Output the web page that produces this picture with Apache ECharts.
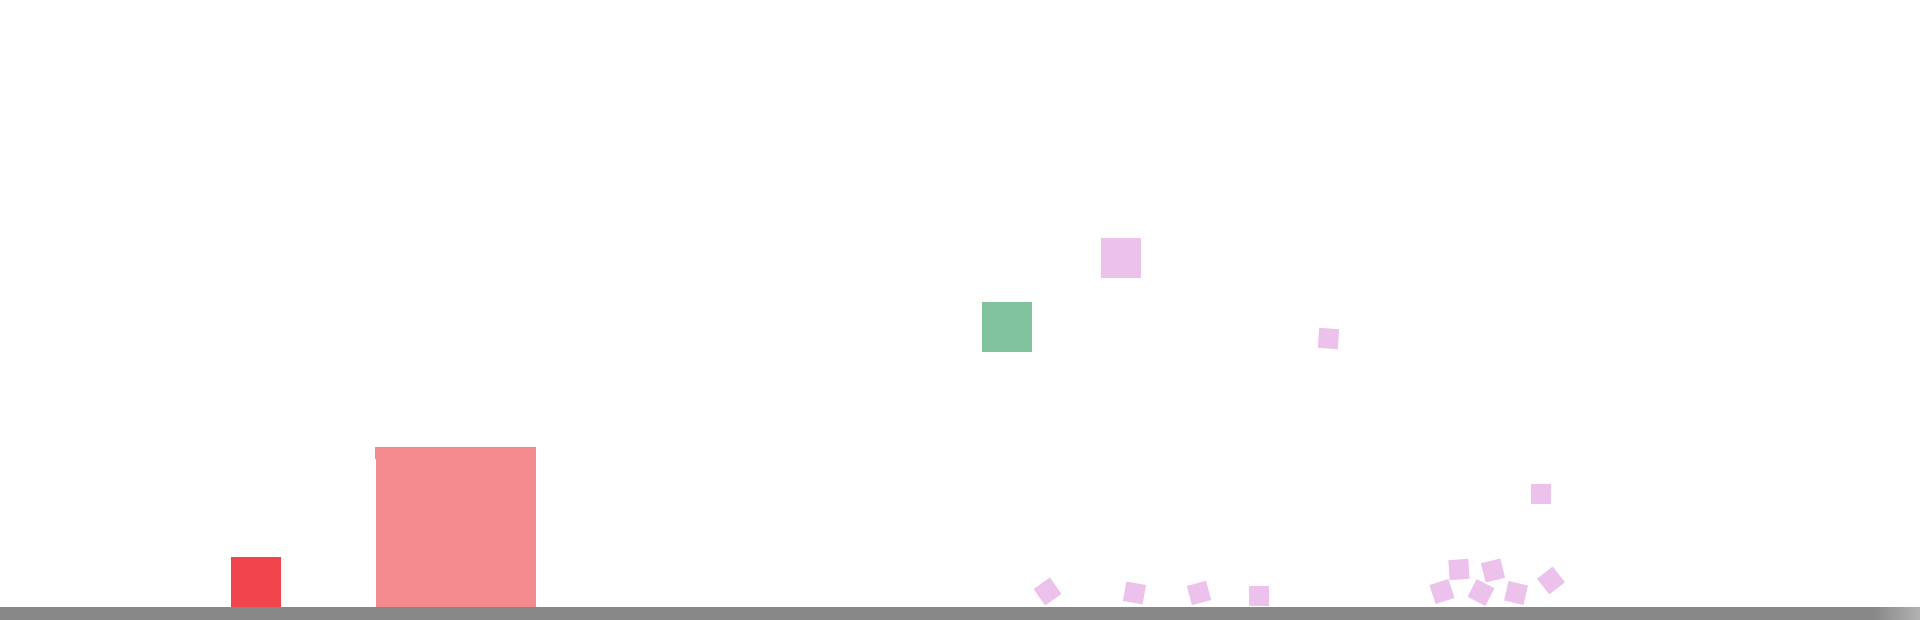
<!DOCTYPE html>
<html>
<head>
<meta charset="utf-8">
<style>
html,body{margin:0;padding:0;background:#fff;}
#main{width:1920px;height:620px;}
</style>
<script src="https://cdn.jsdelivr.net/npm/echarts@6/dist/echarts.min.js"></script>
</head>
<body>
<div id="main"></div>
<script>
// Scene bodies (world units: x to the right, y downward)
const bodyKind  = ['red','salmon','salmon','green','lilac','lilac','lilac','lilac','lilac','lilac','lilac','lilac','lilac','lilac','lilac','lilac','lilac'];
const bodyX     = [256, 456, 455, 1007, 1121, 1328.5, 1047.5, 1134.5, 1199, 1259, 1541, 1442, 1459, 1493, 1481, 1516, 1551];
const bodyY     = [582, 527, 453, 327, 258, 338.5, 591.5, 593, 593, 596, 494, 591.5, 569.5, 570.5, 592.5, 593, 580.5];
const bodyW     = [50, 160, 160, 50, 40, 20, 20, 20, 20, 20, 20, 20, 20, 20, 20, 20, 20];
const bodyH     = [50, 160, 12, 50, 40, 20, 20, 20, 20, 20, 20, 20, 20, 20, 20, 20, 20];
const bodyAngle = [0, 0, 0, 0, 0, 4, -35, 10, -15, 0, 0, -18, -4, -14, 27, 13, -38]; // clockwise degrees

// Ground
const groundX0 = 0, groundX1 = 1920, groundTop = 607, groundBottom = 620;

const kindColor = {red:'#f1444d', salmon:'#f4898e', green:'#7fc29b', lilac:'#ecc2ec'};

const bodies = bodyX.map((x,i)=>[x, bodyY[i], bodyW[i], bodyH[i], bodyAngle[i], i]);

const chart = echarts.init(document.getElementById('main'), null, {renderer:'canvas'});
chart.setOption({
  animation:false,
  backgroundColor:'#ffffff',
  grid:{left:0,right:0,top:0,bottom:0},
  xAxis:{type:'value',min:0,max:1920,show:false},
  yAxis:{type:'value',min:0,max:620,inverse:true,show:false},
  series:[
    {
      type:'custom',
      data:[[groundX0, groundTop, groundX1, groundBottom]],
      renderItem:function(params, api){
        const p0 = api.coord([api.value(0), api.value(1)]);
        const p1 = api.coord([api.value(2), api.value(3)]);
        return {
          type:'rect',
          shape:{x:p0[0], y:p0[1], width:p1[0]-p0[0], height:p1[1]-p0[1]},
          style:{fill:new echarts.graphic.LinearGradient(0,0,1,0,[
            {offset:0,color:'#888888'},
            {offset:0.976,color:'#888888'},
            {offset:1,color:'#b2b2b2'}
          ])}
        };
      }
    },
    {
      type:'custom',
      data:bodies,
      renderItem:function(params, api){
        const c = api.coord([api.value(0), api.value(1)]);
        const s = api.size([api.value(2), api.value(3)]);
        const ang = api.value(4);
        const idx = api.value(5);
        return {
          type:'rect',
          x:c[0], y:c[1],
          rotation:-ang*Math.PI/180,
          shape:{x:-s[0]/2, y:-s[1]/2, width:s[0], height:s[1]},
          style:{fill:kindColor[bodyKind[idx]]}
        };
      }
    }
  ]
});
</script>
</body>
</html>
